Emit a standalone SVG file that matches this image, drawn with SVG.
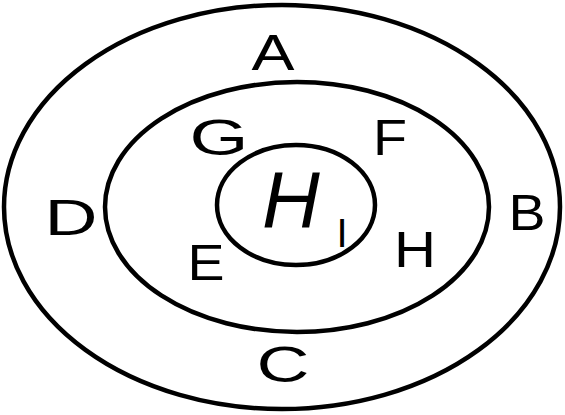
<svg xmlns="http://www.w3.org/2000/svg" width="565" height="415" viewBox="0 0 565 415">
<style>
.ring{fill:none;stroke:#000;stroke-width:4.5}
.lbl{font-family:"Liberation Sans",Arial,sans-serif;font-size:50px;fill:#000;text-anchor:middle}
</style>
<rect width="565" height="415" fill="#fff"/>
<g id="outer"><ellipse class="ring" cx="282" cy="207" rx="278" ry="202"/></g>
<g id="middle"><ellipse class="ring" cx="297" cy="207" rx="192" ry="125"/></g>
<g id="inner"><ellipse class="ring" cx="296" cy="205" rx="79" ry="60"/></g>
<g id="connectors"></g>
<g id="labels">
<text class="lbl" x="273" y="70" textLength="43" lengthAdjust="spacingAndGlyphs">A</text>
<text class="lbl" x="219" y="155" textLength="59" lengthAdjust="spacingAndGlyphs">G</text>
<text class="lbl" x="390" y="155" textLength="34" lengthAdjust="spacingAndGlyphs">F</text>
<text class="lbl" x="71" y="235" textLength="53" lengthAdjust="spacingAndGlyphs">D</text>
<text class="lbl" x="527" y="230" textLength="37" lengthAdjust="spacingAndGlyphs">B</text>
<text class="lbl" x="206" y="280" textLength="37" lengthAdjust="spacingAndGlyphs">E</text>
<text class="lbl" x="415" y="267" textLength="42" lengthAdjust="spacingAndGlyphs">H</text>
<text class="lbl" x="283" y="382" textLength="53" lengthAdjust="spacingAndGlyphs">C</text>
<text class="lbl" x="291" y="227" style="font-size:80px;font-style:italic">H</text>
<text class="lbl" x="342" y="247" style="font-size:40px">I</text>
</g>
</svg>
